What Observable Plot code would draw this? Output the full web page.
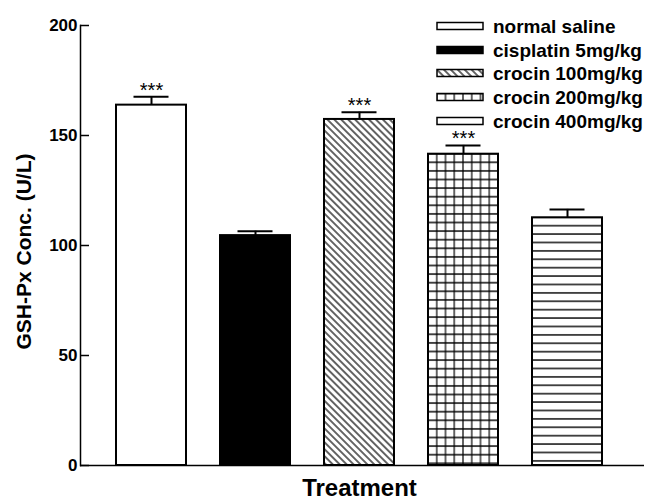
<!DOCTYPE html>
<html><head><meta charset="utf-8">
<script src="https://cdn.jsdelivr.net/npm/d3@7"></script>
<script src="https://cdn.jsdelivr.net/npm/@observablehq/plot@0.6"></script>
<style>body{margin:0;background:#fff} #chart{width:647px;height:500px}</style>
</head><body><div id="chart"></div>
<script>
// ---- data ----
const categories = ["normal saline", "cisplatin 5mg/kg", "crocin 100mg/kg", "crocin 200mg/kg", "crocin 400mg/kg"];
const means = [163.8, 104.5, 157.3, 141.5, 112.6];
const errors = [3.8, 2.0, 3.3, 4.0, 3.8];
const significance = ["***", "", "***", "***", ""];
const yTicks = [0, 50, 100, 150, 200];
const yLabel = "GSH-Px Conc. (U/L)";
const xLabel = "Treatment";
// fill styles per group
const fills = ["white", "black", "url(#p-diag)", "url(#p-grid)", "url(#p-hlines)"];

const data = categories.map((c, i) => ({cat: c, mean: means[i], upper: means[i] + errors[i], sig: significance[i], fill: fills[i]}));

const W = 647, H = 500, mL = 80, mR = 3, mT = 25, mB = 35;
const font = "Arial, 'Liberation Sans', sans-serif";

const plot = Plot.plot({
  width: W, height: H, marginLeft: mL, marginRight: mR, marginTop: mT, marginBottom: mB,
  style: {fontFamily: font, background: "white", color: "black", overflow: "visible"},
  x: {domain: categories, range: [80, 638], padding: 0.33, axis: null},
  y: {domain: [0, 200], axis: null},
  color: {type: "identity"},
  marks: [
    Plot.barY(data, {x: "cat", y: "mean", fill: "fill", stroke: "black", strokeWidth: 2}),
    Plot.ruleX(data, {x: "cat", y1: "mean", y2: "upper", stroke: "black", strokeWidth: 2}),
    Plot.tickY(data, {x: "cat", y: "upper", stroke: "black", strokeWidth: 2, inset: 17.5}),
    Plot.text(data.filter(d => d.sig), {x: "cat", y: "upper", text: "sig", lineAnchor: "bottom", fontSize: 20}),
    Plot.frame({anchor: "left", strokeWidth: 1.5}),
    Plot.ruleY([0], {strokeWidth: 1.5}),
    Plot.tickY(yTicks, {y: d => d, insetRight: W - mL - mR - 9, strokeWidth: 1.5}),
    Plot.axisY(yTicks, {tickSize: 0, tickPadding: 3, fontSize: 17, fontWeight: "bold", label: null}),
    Plot.text([yLabel], {frameAnchor: "left", textAnchor: "middle", rotate: -90, dx: -56, dy: 6, fontSize: 21, fontWeight: "bold"}),
    Plot.text([xLabel], {frameAnchor: "bottom", lineAnchor: "bottom", dy: 30, dx: -3, fontSize: 24, fontWeight: "bold", letterSpacing: 1.2})
  ]
});

// ---- patterns (aligned with the bars via the plot's scales) ----
const xs = plot.scale("x"), ys = plot.scale("y");
const svg = d3.select(plot);
const defs = svg.insert("defs", ":first-child");

const dw = 4.9;
const pd = defs.append("pattern").attr("id", "p-diag").attr("patternUnits", "userSpaceOnUse")
  .attr("width", dw).attr("height", dw).attr("patternTransform", "rotate(-45)");
pd.append("rect").attr("width", dw).attr("height", dw).attr("fill", "white");
pd.append("path").attr("d", `M0,0V${dw}M${dw},0V${dw}`).attr("stroke", "black").attr("stroke-width", 1.2);

const gw = xs.bandwidth / 8, gh = 8.6;
const pg = defs.append("pattern").attr("id", "p-grid").attr("patternUnits", "userSpaceOnUse")
  .attr("x", xs.apply(categories[3])).attr("y", ys.apply(means[3]))
  .attr("width", gw).attr("height", gh);
pg.append("rect").attr("width", gw).attr("height", gh).attr("fill", "white");
pg.append("path").attr("d", `M0,0V${gh}M${gw},0V${gh}M0,0H${gw}M0,${gh}H${gw}`).attr("stroke", "black").attr("stroke-width", 1.2);

const hh = 8.4;
const ph = defs.append("pattern").attr("id", "p-hlines").attr("patternUnits", "userSpaceOnUse")
  .attr("x", 0).attr("y", ys.apply(means[4])).attr("width", 10).attr("height", hh);
ph.append("rect").attr("width", 10).attr("height", hh).attr("fill", "white");
ph.append("path").attr("d", `M0,0H10M0,${hh}H10`).attr("stroke", "black").attr("stroke-width", 1.4);

// ---- legend ----
const rows = [26, 50, 73, 97, 121];
const lg = svg.append("g").attr("font-family", font).attr("text-anchor", "start");
categories.forEach((c, i) => {
  lg.append("rect").attr("x", 437).attr("y", rows[i] - 3.5).attr("width", 46).attr("height", 7)
    .attr("fill", fills[i]).attr("stroke", "black").attr("stroke-width", 1.5);
  lg.append("text").attr("x", 493).attr("y", rows[i]).attr("dy", "0.35em").attr("text-anchor", "start")
    .attr("font-size", 19).attr("font-weight", "bold").attr("fill", "black").text(c);
});

document.getElementById("chart").appendChild(plot);
</script>
</body></html>
